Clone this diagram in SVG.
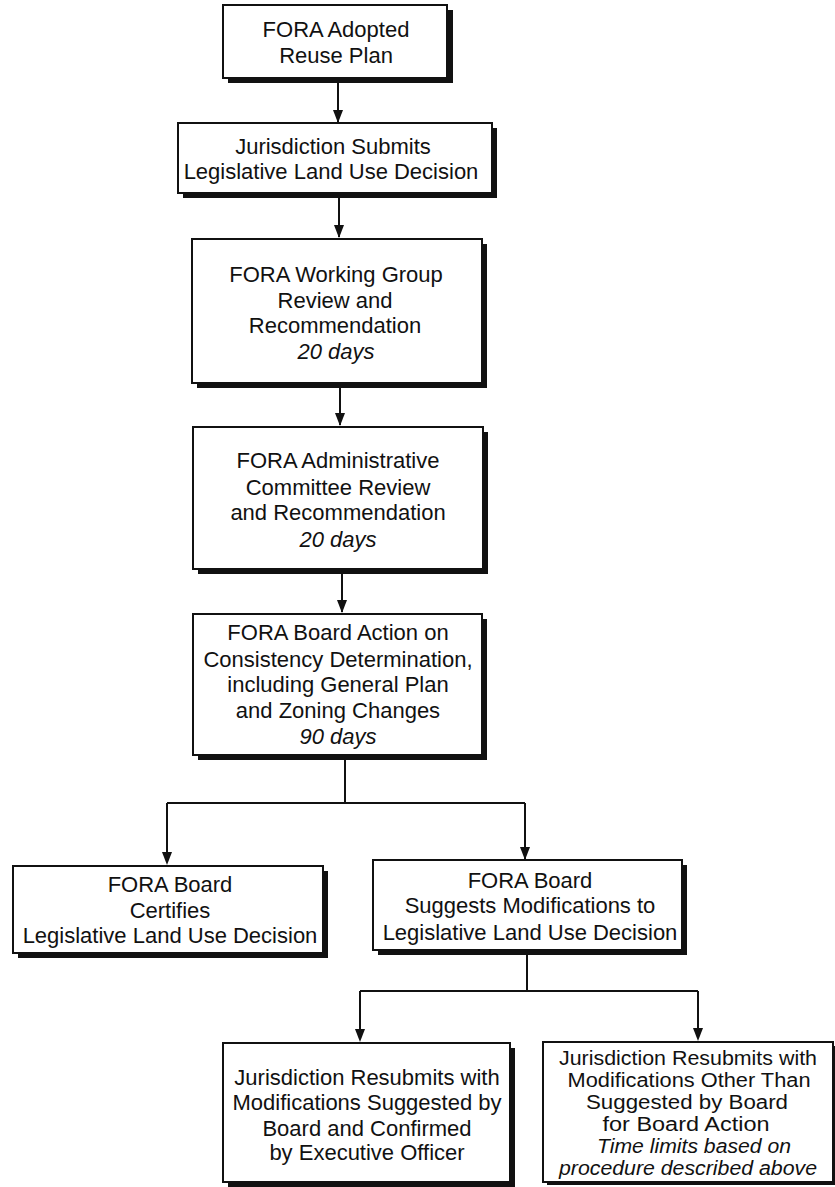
<svg xmlns="http://www.w3.org/2000/svg" width="835" height="1187" viewBox="0 0 835 1187">
<style>
.sh{fill:#111;}
.bx{fill:#fff;stroke:#111;stroke-width:2;}
text{font-family:"Liberation Sans",Arial,sans-serif;font-size:22px;fill:#111;text-anchor:middle;}
.it{font-style:italic;}
.sm{font-size:19.5px;}
.cn{fill:none;stroke:#111;stroke-width:2;}
.ah{fill:#111;}
</style>
<rect width="835" height="1187" fill="#fff"/>

<g id="connectors">
<path class="cn" d="M338,79 V122"/>
<path class="ah" d="M333,110 L343,110 L338,123 Z"/>
<path class="cn" d="M339,194 V237"/>
<path class="ah" d="M334,225 L344,225 L339,238 Z"/>
<path class="cn" d="M340,384 V425"/>
<path class="ah" d="M335,413 L345,413 L340,426 Z"/>
<path class="cn" d="M342,570 V612"/>
<path class="ah" d="M337,600 L347,600 L342,613 Z"/>
<path class="cn" d="M345,756 V803 M167,803 H525 M167,803 V859 M525,803 V859"/>
<path class="ah" d="M162,852 L172,852 L167,865 Z"/>
<path class="ah" d="M520,847 L530,847 L525,860 Z"/>
<path class="cn" d="M527,951 V991 M360,991 H698 M360,991 V1037 M698,991 V1037"/>
<path class="ah" d="M355,1029 L365,1029 L360,1042 Z"/>
<path class="ah" d="M693,1028 L703,1028 L698,1041 Z"/>
</g>

<g id="n1">
<rect class="sh" x="228" y="10" width="225" height="73"/>
<rect class="bx" x="223" y="5" width="224" height="73"/>
<text x="336" y="37">FORA Adopted</text>
<text x="336" y="63">Reuse Plan</text>
</g>

<g id="n2">
<rect class="sh" x="183" y="128" width="314" height="70"/>
<rect class="bx" x="178" y="123" width="314" height="70"/>
<text x="333" y="154">Jurisdiction Submits</text>
<text x="331" y="179">Legislative Land Use Decision</text>
</g>

<g id="n3">
<rect class="sh" x="197" y="244" width="290" height="144"/>
<rect class="bx" x="192" y="239" width="290" height="144"/>
<text x="336" y="282">FORA Working Group</text>
<text x="335" y="308">Review and</text>
<text x="335" y="333">Recommendation</text>
<text x="336" y="359" class="it">20 days</text>
</g>

<g id="n4">
<rect class="sh" x="198" y="432" width="290" height="142"/>
<rect class="bx" x="193" y="427" width="290" height="142"/>
<text x="338" y="468">FORA Administrative</text>
<text x="338" y="495">Committee Review</text>
<text x="338" y="520">and Recommendation</text>
<text x="338" y="547" class="it">20 days</text>
</g>

<g id="n5">
<rect class="sh" x="198" y="619" width="289" height="141"/>
<rect class="bx" x="193" y="614" width="289" height="141"/>
<text x="338" y="640">FORA Board Action on</text>
<text x="338" y="667">Consistency Determination,</text>
<text x="338" y="692">including General Plan</text>
<text x="338" y="718">and Zoning Changes</text>
<text x="338" y="744" class="it">90 days</text>
</g>

<g id="n6">
<rect class="sh" x="18" y="871" width="310" height="87"/>
<rect class="bx" x="13" y="866" width="310" height="87"/>
<text x="170" y="892">FORA Board</text>
<text x="170" y="918">Certifies</text>
<text x="170" y="943">Legislative Land Use Decision</text>
</g>

<g id="n7">
<rect class="sh" x="378" y="865" width="309" height="90"/>
<rect class="bx" x="373" y="860" width="309" height="90"/>
<text x="530" y="888">FORA Board</text>
<text x="530" y="913">Suggests Modifications to</text>
<text x="530" y="940">Legislative Land Use Decision</text>
</g>

<g id="n8">
<rect class="sh" x="228" y="1048" width="287" height="140"/>
<rect class="bx" x="223" y="1043" width="287" height="139"/>
<text x="367" y="1085">Jurisdiction Resubmits with</text>
<text x="367" y="1110">Modifications Suggested by</text>
<text x="367" y="1136">Board and Confirmed</text>
<text x="367" y="1160">by Executive Officer</text>
</g>

<g id="n9">
<rect class="sh" x="547" y="1046" width="290" height="139"/>
<rect class="bx" x="543" y="1042" width="290" height="140"/>
<text x="688" y="1065" class="sm" textLength="258" lengthAdjust="spacingAndGlyphs">Jurisdiction Resubmits with</text>
<text x="689" y="1087" class="sm" textLength="243" lengthAdjust="spacingAndGlyphs">Modifications Other Than</text>
<text x="687" y="1109" class="sm" textLength="202" lengthAdjust="spacingAndGlyphs">Suggested by Board</text>
<text x="686" y="1131" class="sm" textLength="167" lengthAdjust="spacingAndGlyphs">for Board Action</text>
<text x="694" y="1153" class="sm it" textLength="194" lengthAdjust="spacingAndGlyphs">Time limits based on</text>
<text x="688" y="1175" class="sm it" textLength="258" lengthAdjust="spacingAndGlyphs">procedure described above</text>
</g>
</svg>
